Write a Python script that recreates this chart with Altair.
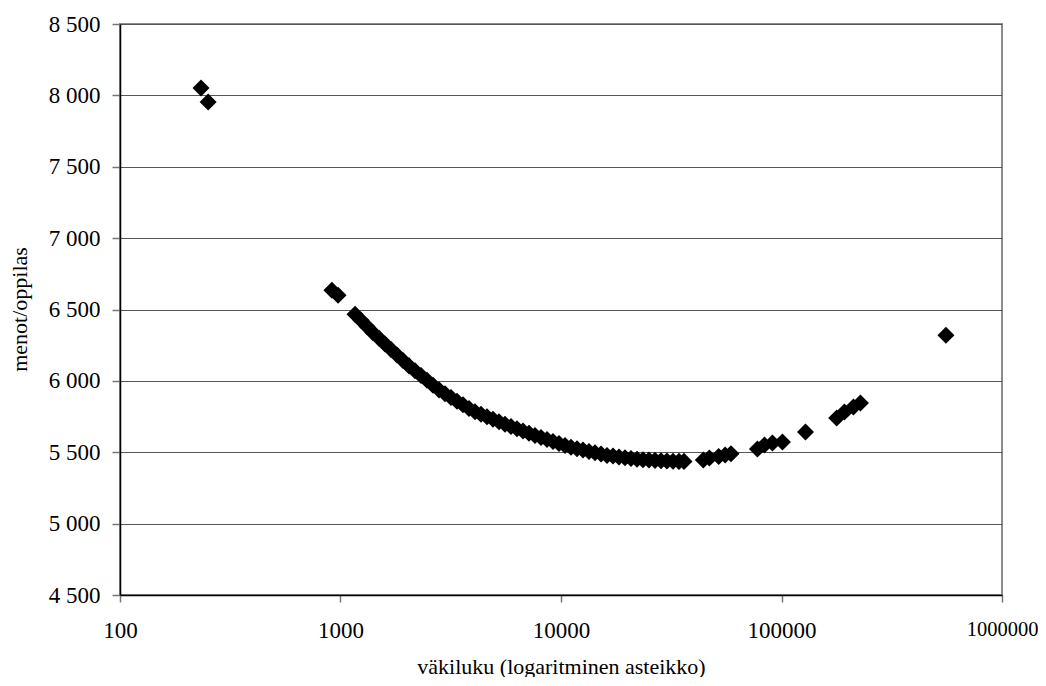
import altair as alt
import pandas as pd

# population (log scale) and spending per pupil
population = [
    233, 251, 914, 975,
    1164, 1239, 1319, 1404, 1495, 1592, 1695, 1804, 1921, 2045, 2177, 2318,
    2468, 2627, 2797, 2978, 3170, 3375, 3594, 3826, 4074, 4337, 4617, 4916,
    5234, 5572, 5932, 6316, 6724, 7159, 7621, 8114, 8638, 9198, 9793, 10430,
    11100, 11820, 12580, 13400, 14260, 15190, 16170, 17210, 18320, 19510,
    20770, 22110, 23540, 25060, 26680, 28410, 30240, 32200, 34280, 36130,
    44200, 47100, 51900, 55500, 59000,
    77800, 83700, 91000, 101000,
    128500,
    178000, 193000, 212000, 228000,
    557000,
]
spending = [
    8052, 7954, 6635, 6600,
    6467, 6424, 6381, 6337, 6298, 6259, 6220, 6181, 6142, 6105, 6071, 6038,
    6004, 5970, 5937, 5910, 5884, 5858, 5833, 5807, 5784, 5766, 5749, 5731,
    5714, 5696, 5680, 5664, 5649, 5633, 5618, 5603, 5589, 5575, 5562, 5548,
    5535, 5524, 5515, 5505, 5496, 5487, 5478, 5473, 5467, 5462,
    5456, 5451, 5447, 5445, 5443, 5441, 5439, 5437, 5436, 5436,
    5446, 5460, 5470, 5480, 5490,
    5523, 5551, 5565, 5572,
    5642,
    5740, 5782, 5817, 5845,
    6319,
]

x_ticks = [100, 1000, 10000, 100000, 1000000]
y_ticks = [4500, 5000, 5500, 6000, 6500, 7000, 7500, 8000, 8500]

df = pd.DataFrame({"vakiluku": population, "menot": spending})

FONT = "Liberation Serif"

chart = (
    alt.Chart(df)
    .mark_point(shape="diamond", filled=True, color="black", opacity=1, size=290, strokeWidth=0)
    .encode(
        x=alt.X(
            "vakiluku:Q",
            scale=alt.Scale(type="log", domain=[100, 1000000], nice=False),
            axis=alt.Axis(
                values=x_ticks,
                format="d",
                grid=False,
                tickSize=7,
                labelPadding=17,
                labelFlush=False,
                labelOverlap=False,
                labelFontSize={
                    "condition": {"test": "datum.value >= 1000000", "value": 20.5},
                    "value": 23,
                },
                title="väkiluku (logaritminen asteikko)",
                titleX=441,
                titleY=78,
                titleAlign="center",
                titleBaseline="alphabetic",
            ),
        ),
        y=alt.Y(
            "menot:Q",
            scale=alt.Scale(domain=[4500, 8500], nice=False, zero=False),
            axis=alt.Axis(
                values=y_ticks,
                labelExpr="replace(format(datum.value, ','), ',', ' ')",
                grid=True,
                tickSize=8,
                labelPadding=12,
                labelFontSize=23,
                title="menot/oppilas",
                titleX=-101,
                titleY=285,
                titleAngle=270,
                titleAlign="center",
                titleBaseline="middle",
            ),
        ),
    )
    .properties(
        width=882,
        height=571,
        autosize=alt.AutoSizeParams(type="none"),
        padding={"left": 112, "top": 16, "right": 36, "bottom": 82},
    )
    .configure_view(stroke="#8c8c8c", strokeWidth=2)
    .configure_axis(
        domainColor="black",
        domainWidth=1.5,
        tickColor="#777777",
        tickWidth=1.5,
        gridColor="#555555",
        gridWidth=1,
        labelFont=FONT,
        labelColor="black",
        titleFont=FONT,
        titleFontSize=22,
        titleFontWeight="normal",
        titleColor="black",
    )
)

chart.save("out.html", embed_options={"renderer": "svg", "actions": False})
